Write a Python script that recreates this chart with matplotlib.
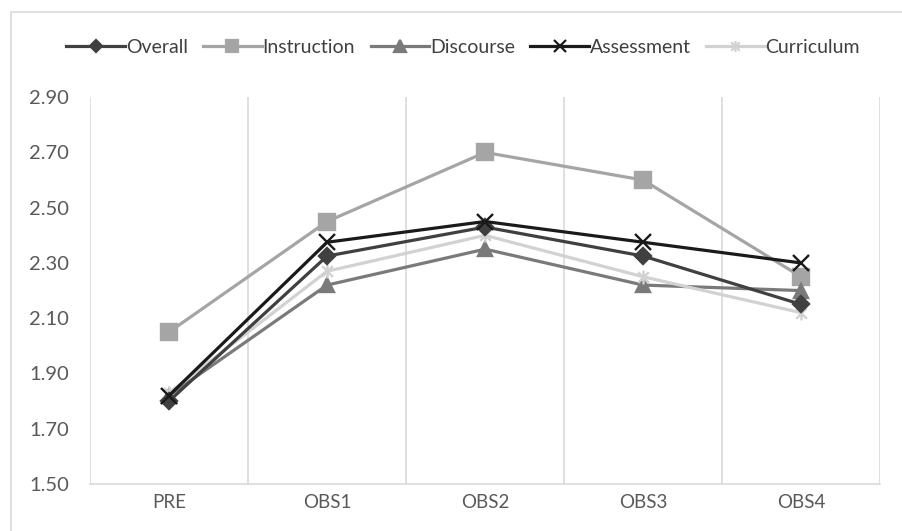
import numpy as np
import matplotlib
matplotlib.use('Agg')
import matplotlib.pyplot as plt
from matplotlib.lines import Line2D
from matplotlib.path import Path

plt.rcParams['font.family'] = ['Lato', 'DejaVu Sans']

stages = ['PRE', 'OBS1', 'OBS2', 'OBS3', 'OBS4']

overall     = [1.80, 2.325, 2.43, 2.325, 2.15]
instruction = [2.05, 2.45, 2.70, 2.60, 2.25]
discourse   = [1.82, 2.22, 2.35, 2.22, 2.20]
assessment  = [1.82, 2.375, 2.45, 2.375, 2.30]
curriculum  = [1.83, 2.27, 2.40, 2.25, 2.12]

yticks = [1.50, 1.70, 1.90, 2.10, 2.30, 2.50, 2.70, 2.90]

# cross with a vertical bar through it (spreadsheet-style "star" marker)
star = Path([(-1, -1), (1, 1), (-1, 1), (1, -1), (0, -1.3), (0, 1.3)],
            [Path.MOVETO, Path.LINETO, Path.MOVETO, Path.LINETO,
             Path.MOVETO, Path.LINETO])

# (label, values, colour, marker, marker size, zorder)
series = [
    ('Overall',     overall,     '#404040', 'D', 8,  4),
    ('Instruction', instruction, '#a5a5a5', 's', 11, 2),
    ('Discourse',   discourse,   '#7a7a7a', '^', 10, 3),
    ('Assessment',  assessment,  '#1a1a1a', 'x', 11, 5),
    ('Curriculum',  curriculum,  '#d2d2d2', star, 10, 3),
]

fig = plt.figure(figsize=(9.03, 5.31), dpi=100)
ax = fig.add_axes([0.0997, 0.0885, 0.875, 0.7285])

x = np.arange(len(stages))
handles = []
for label, vals, col, mk, ms, z in series:
    ax.plot(x, vals, color=col, lw=2.3, marker=mk, ms=ms, mew=1.7,
            mec=col, mfc=col, zorder=z, solid_joinstyle='miter')
    handles.append(Line2D([0], [0], color=col, lw=2.3, marker=mk, ms=ms * 0.8,
                          mew=1.6, mec=col, mfc=col))

ax.set_xlim(-0.5, len(stages) - 0.5)
ax.set_ylim(1.50, 2.90)
ax.set_yticks(yticks)
ax.set_yticklabels([f'{v:.2f}' for v in yticks])
ax.set_xticks(x)
ax.set_xticklabels(stages)
ax.set_xticks(np.arange(len(stages) + 1) - 0.5, minor=True)
ax.grid(which='minor', axis='x', color='#d9d9d9', lw=1.2)
ax.tick_params(which='both', length=0)
ax.tick_params(axis='y', labelsize=14.5, labelcolor='#595959', pad=15)
ax.tick_params(axis='x', labelsize=13.5, labelcolor='#595959', pad=7)

for side in ['top', 'right', 'left']:
    ax.spines[side].set_visible(False)
ax.spines['bottom'].set_color('#d9d9d9')
ax.spines['bottom'].set_linewidth(1.2)

leg = fig.legend(handles, [s[0] for s in series], loc='center', ncol=5,
                 bbox_to_anchor=(0.513, 0.911), frameon=False, fontsize=14,
                 handlelength=3.0, handletextpad=0.05, columnspacing=0.8)
for t in leg.get_texts():
    t.set_color('#404040')

# chart frame
fig.add_artist(plt.Rectangle((11 / 903, -0.1), 1.2, 1.1 - 12 / 531,
                             transform=fig.transFigure, fill=False,
                             ec='#d9d9d9', lw=1.2))

fig.savefig('out.png', dpi=100)
